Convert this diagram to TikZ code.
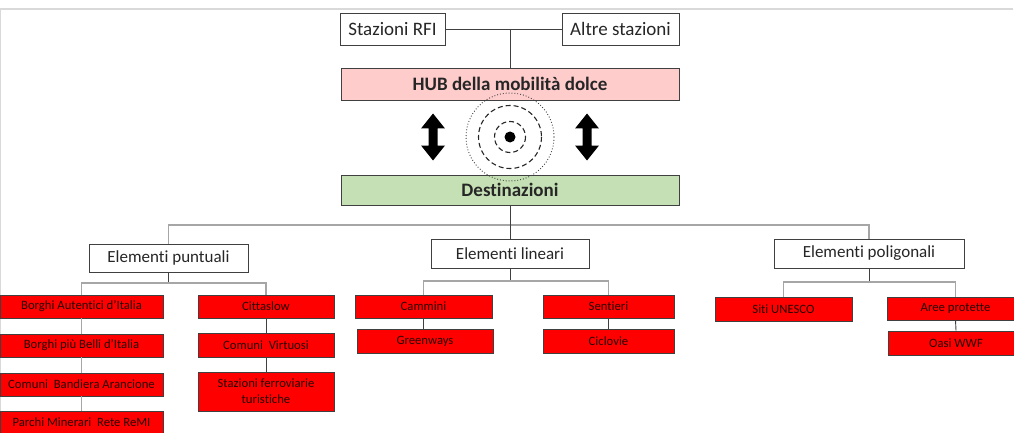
\documentclass[tikz,border=0pt]{standalone}
\usepackage{fontspec}
\setmainfont{Carlito}[Ligatures={NoCommon,NoRequired,NoContextual}]
\definecolor{hubpink}{HTML}{FFCCCC}
\definecolor{destgreen}{HTML}{C5E0B4}
\definecolor{framegray}{HTML}{D9D9D9}
\definecolor{linkgray}{HTML}{A6A6A6}
\definecolor{darkline}{HTML}{404040}
\begin{document}
\begin{tikzpicture}[x=1pt,y=-1pt,
  box/.style={draw=darkline, line width=0.9pt, inner sep=0pt, align=center, text=black!85},
  whitebox/.style={box, fill=white, font=\fontsize{19}{23}\selectfont},
  elembox/.style={box, fill=white, font=\fontsize{17}{20}\selectfont},
  bigbox/.style={box, font=\bfseries\fontsize{19}{23}\selectfont, minimum width=338pt},
  redbox/.style={box, fill=red, font=\fontsize{12.7}{16}\selectfont, text=black!85!red},
  trunk/.style={draw=darkline, line width=0.9pt},
  branch/.style={draw=linkgray, line width=1.1pt},
  dblarrow/.pic={\fill[black] (0,-23.5) -- (12,-8.5) -- (4.5,-8.5) -- (4.5,8.5) -- (12,8.5) -- (0,23.5) -- (-12,8.5) -- (-4.5,8.5) -- (-4.5,-8.5) -- (-12,-8.5) -- cycle;}
]
\useasboundingbox (0,0) rectangle (1014,433);
% frame
\draw[framegray, line width=2pt] (0,9.5) -- (1013,9.5);
\draw[framegray, line width=1.5pt] (0.5,9.5) -- (0.5,433);

% top
\node[whitebox, minimum width=105pt, minimum height=32pt] (rfi) at (392.5,29) {Stazioni RFI};
\node[whitebox, minimum width=117pt, minimum height=32pt] (altre) at (620.5,29) {Altre stazioni};
\node[bigbox, fill=hubpink, minimum height=32pt] (hub) at (510,84) {HUB della mobilità dolce};
\node[bigbox, fill=destgreen, minimum height=30pt] (dest) at (510,190) {Destinazioni};

\draw[trunk] (rfi.east) -- (altre.west);
\draw[trunk] (hub.north) -- (hub.north |- rfi.east);

% target circles
\coordinate (c) at (510,137);
\draw[black!75, line width=0.9pt, dotted] (c) circle[radius=44];
\draw[black!85, line width=1.1pt, dash pattern=on 5pt off 3pt] (c) circle[radius=31.5];
\draw[black!85, line width=1.1pt, dash pattern=on 5pt off 3pt] (c) circle[radius=15.5];
\fill[black] (c) circle[radius=5.5];
\pic (arrL) at (433,137) {dblarrow};
\pic (arrR) at (587,137) {dblarrow};

% level 2
\node[elembox, minimum width=159pt, minimum height=28pt] (punt) at (168.5,258) {Elementi puntuali};
\node[elembox, minimum width=158pt, minimum height=29pt] (lin) at (510,253.5) {Elementi lineari};
\node[elembox, minimum width=190pt, minimum height=29pt] (pol) at (869,253.5) {Elementi poligonali};
\coordinate (h1) at (510,225);
\draw[branch] (punt.north) |- (h1) -| (pol.north);
\draw[trunk] (dest.south) -- (lin.north);

% puntuali
\node[redbox, minimum width=163pt, minimum height=23pt] (bai) at (81.5,306.5) {Borghi Autentici d’Italia};
\node[redbox, minimum width=163pt, minimum height=23pt] (bpb) at (81.5,345.5) {Borghi più Belli d’Italia};
\node[redbox, minimum width=163pt, minimum height=23pt] (cba) at (81.5,384.5) {Comuni\ \ Bandiera Arancione};
\node[redbox, minimum width=163pt, minimum height=23pt] (pmr) at (81.5,422.5) {Parchi Minerari\ \ Rete ReMI};
\node[redbox, minimum width=136pt, minimum height=23pt] (citta) at (266,306.5) {Cittaslow};
\node[redbox, minimum width=136pt, minimum height=24pt] (cv) at (266,345) {Comuni\ \ Virtuosi};
\node[redbox, minimum width=136pt, minimum height=39pt] (sft) at (266,391.5) {Stazioni ferroviarie\\turistiche};
\coordinate (hp) at (168.5,283);
\draw[trunk] (punt.south) -- (hp);
\draw[branch] (bai.north) |- (hp) -| (citta.north);
\draw[branch] (bai.south) -- (bpb.north);
\draw[branch] (bpb.south) -- (cba.north);
\draw[branch] (cba.south) -- (pmr.north);
\draw[trunk] (citta.south) -- (cv.north);
\draw[trunk] (cv.south) -- (sft.north);

% lineari
\node[redbox, minimum width=137pt, minimum height=23pt] (cam) at (423.5,306.5) {Cammini};
\node[redbox, minimum width=136pt, minimum height=24pt] (gre) at (425,341) {Greenways};
\node[redbox, minimum width=131pt, minimum height=23pt] (sen) at (608.5,306.5) {Sentieri};
\node[redbox, minimum width=131pt, minimum height=24pt] (cic) at (608.5,341) {Ciclovie};
\coordinate (hl) at (510,281);
\draw[trunk] (lin.south) -- (hl);
\draw[branch] (cam.north) |- (hl) -| (sen.north);
\draw[trunk] (cam.south) -- (cam.south |- gre.north);
\draw[trunk] (sen.south) -- (cic.north);

% poligonali
\node[redbox, minimum width=137pt, minimum height=24pt] (siti) at (783.5,309) {Siti UNESCO};
\node[redbox, minimum width=137pt, minimum height=23pt] (aree) at (955.5,308.5) {Aree protette};
\node[redbox, minimum width=136pt, minimum height=24pt] (oasi) at (956,343) {Oasi WWF};
\coordinate (hpo) at (869,282);
\draw[trunk] (pol.south) -- (hpo);
\draw[branch] (siti.north) |- (hpo) -| (aree.north);
\draw[trunk] (aree.south) -- (oasi.north);
\end{tikzpicture}
\end{document}
